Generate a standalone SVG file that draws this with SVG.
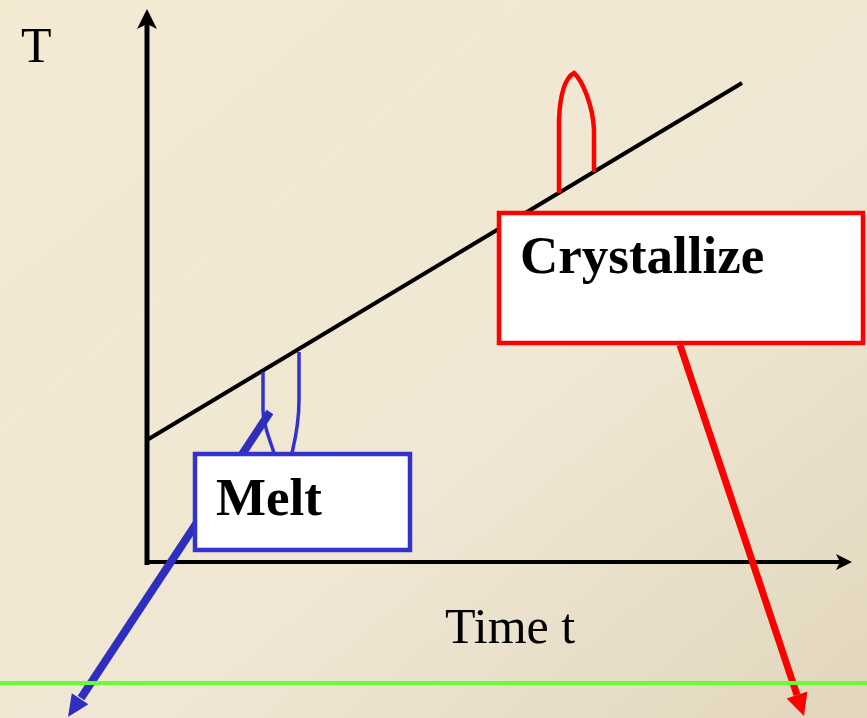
<svg xmlns="http://www.w3.org/2000/svg" width="867" height="718" viewBox="0 0 867 718">
<defs>
<linearGradient id="bg" x1="0" y1="0" x2="1" y2="1">
<stop offset="0" stop-color="#f5ead2"/>
<stop offset="0.6" stop-color="#efe7d4"/>
<stop offset="1" stop-color="#e2d6bc"/>
</linearGradient>
<marker id="ahBlack" markerWidth="4" markerHeight="4" refX="3" refY="2" orient="auto" markerUnits="strokeWidth"><path d="M0,0 L4,2 L0,4 L1,2 Z" fill="#000"/></marker>
</defs>
<style>
.lbl{font-family:"Liberation Serif","Times New Roman",serif;fill:#000}
.bold{font-weight:bold;font-size:53px}
.box{fill:#fff;stroke-width:4.5}
</style>
<rect width="867" height="718" fill="url(#bg)"/>
<g id="axes">
<line x1="147" y1="565" x2="147" y2="14" stroke="#000" stroke-width="5" marker-end="url(#ahBlack)"/>
<line x1="145" y1="562" x2="848" y2="562" stroke="#000" stroke-width="4" marker-end="url(#ahBlack)"/>
<text class="lbl" x="21" y="62" font-size="50">T</text>
<text class="lbl" x="445" y="643" font-size="50">Time t</text>
</g>
<g id="curve">
<line x1="147" y1="440" x2="742" y2="83" stroke="#000" stroke-width="4"/>
<path d="M559,193 L559,120 C560,95 565,78 574,73 C582,80 593,105 594,130 L594,172" fill="none" stroke="#ff0000" stroke-width="4.5"/>
<path d="M263,372 L263,410 C263,425 270,440 274,453" fill="none" stroke="#3333cc" stroke-width="3.5"/>
<path d="M299,352 L299,400 C299,425 295,440 292,453" fill="none" stroke="#3333cc" stroke-width="3.5"/>
</g>
<g id="connectors">
<line x1="270" y1="412" x2="81" y2="698" stroke="#2e2ebf" stroke-width="8"/>
<polygon points="68,717 88.4,704.2 71.8,693.2" fill="#2e2ebf"/>
<line x1="680" y1="345" x2="797" y2="695" stroke="#ff0000" stroke-width="7"/>
<polygon points="804,716 807.4,691.6 786.6,698.6" fill="#ff0000"/>
</g>
<g id="melt">
<rect class="box" x="195" y="454" width="215" height="96" stroke="#3333cc"/>
<text class="lbl bold" x="216" y="515">Melt</text>
</g>
<g id="crystallize">
<rect class="box" x="499" y="213" width="364" height="130" stroke="#ff0000"/>
<text class="lbl bold" x="520" y="273">Crystallize</text>
</g>
<line id="baseline" x1="0" y1="683" x2="867" y2="683" stroke="#66ff33" stroke-width="4"/>
</svg>
